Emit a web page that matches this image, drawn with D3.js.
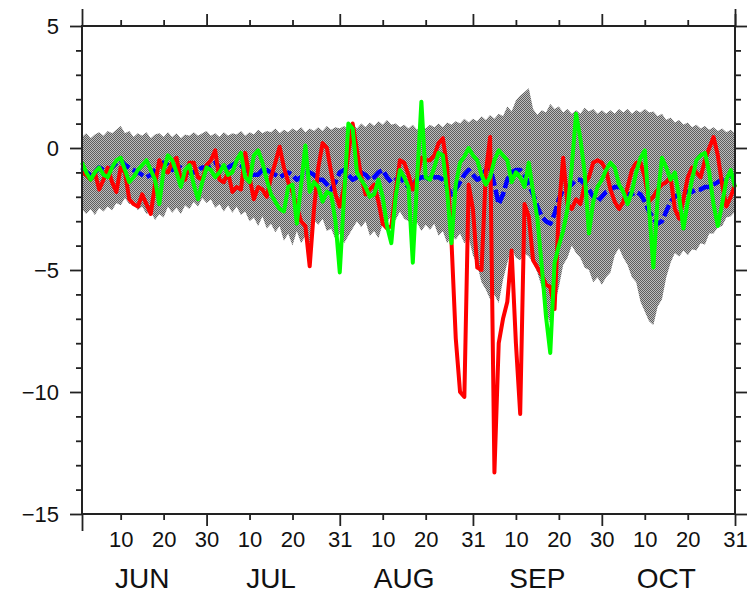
<!DOCTYPE html>
<html>
<head>
<meta charset="utf-8">
<script src="https://cdn.jsdelivr.net/npm/d3@7"></script>
<style>
  body { margin: 0; background: #fff; }
  svg { display: block; }
  .tick text { font-family: "Liberation Sans", Arial, Helvetica, sans-serif; fill: #111; }
</style>
</head>
<body>
<div id="chart"></div>
<script>
// daily values, 1 Jun .. 31 Oct
const bandUpper = [
  0.45,0.6,0.4,0.55,0.65, 0.5,0.7,0.6,0.75,0.9, 0.6,0.7,0.45,0.6,0.5, 0.65,0.4,0.55,0.6,0.45, 0.65,0.45,0.6,0.4,0.55, 0.5,0.65,0.5,0.6,0.7,
  0.5,0.6,0.45,0.65,0.5, 0.6,0.55,0.7,0.5,0.65, 0.55,0.75,0.6,0.7,0.65, 0.8,0.6,0.75,0.65,0.8, 0.7,0.85,0.65,0.8,0.7, 0.85,0.7,0.9,0.75,0.85, 0.8,
  0.9,0.75,0.95,0.8,1.0, 0.85,1.05,0.9,1.1,0.95, 1.15,0.95,1.0,0.85,0.95, 0.8,0.95,0.75,0.9,0.8, 0.95,0.85,1.0,0.85,1.05, 0.95,1.1,1.0,1.2,1.05, 1.2,
  1.1,1.3,1.15,1.35,1.2, 1.4,1.3,1.7,1.5,1.95, 2.15,2.3,2.45,1.6,1.35, 1.55,1.45,1.8,1.6,1.7, 1.45,1.6,1.4,1.55,1.4, 1.65,1.5,1.6,1.4,1.55,
  1.4,1.55,1.4,1.6,1.45, 1.6,1.4,1.55,1.45,1.6, 1.45,1.5,1.3,1.4,1.15, 1.25,1.05,1.15,0.95,1.05, 0.85,0.95,0.8,0.9,0.75, 0.85,0.7,0.8,0.65,0.75, 0.6
];
const bandLower = [
  -2.5,-2.7,-2.5,-2.75,-2.45, -2.6,-2.4,-2.55,-2.25,-2.35, -2.05,-2.3,-2.2,-2.55,-2.4, -2.7,-2.6,-2.95,-2.7,-2.85, -2.4,-2.65,-2.45,-2.7,-2.35, -2.5,-2.2,-2.4,-2.05,-2.25,
  -2.1,-2.45,-2.3,-2.6,-2.35, -2.65,-2.4,-2.75,-2.6,-3.0, -2.85,-3.2,-2.8,-3.3,-3.1, -3.45,-3.2,-3.8,-3.5,-4.0, -3.4,-3.9,-3.6,-4.1,-2.95, -3.15,-2.9,-3.4,-3.3,-3.75, -3.5,
  -3.9,-3.6,-3.3,-3.0,-3.25, -3.0,-3.6,-3.4,-3.7,-3.1, -3.05,-2.8,-2.95,-2.6,-2.9, -3.0,-3.35,-3.05,-3.4,-3.15, -3.35,-3.1,-3.6,-3.4,-3.9, -3.6,-3.75,-3.5,-3.9,-3.65, -4.4,
  -4.8,-5.5,-5.8,-6.2,-6.0, -6.35,-5.4,-4.7,-4.1,-4.5, -4.6,-4.3,-4.45,-4.7,-5.1, -5.7,-6.7,-7.2,-6.4,-5.7, -4.8,-4.5,-4.0,-4.3,-4.5, -4.9,-5.0,-5.5,-5.3,-5.6,
  -5.3,-5.1,-4.4,-4.1,-4.5, -4.8,-5.3,-5.5,-6.3,-6.7, -7.1,-7.25,-6.5,-6.2,-5.3, -4.7,-4.3,-4.45,-4.2,-4.4, -4.15,-4.2,-3.9,-3.95,-3.5, -3.5,-3.25,-3.2,-2.85,-2.8, -2.6
];
const blueSeries = [
  -0.8,-1.0,-1.1,-1.0,-0.8, -0.9,-0.9,-0.8,-0.6,-0.5, -0.7,-0.8,-0.9,-1.0,-1.1, -1.2,-1.1,-0.9,-0.7,-0.6, -0.7,-0.9,-0.8,-0.8,-0.9, -1.0,-1.0,-0.9,-0.8,-0.8,
  -0.7,-0.6,-0.8,-0.9,-0.8, -0.7,-0.6,-0.7,-0.9,-1.0, -1.1,-1.1,-0.9,-0.9,-1.0, -1.1,-1.2,-1.1,-1.0,-1.1, -1.3,-1.2,-1.0,-1.0,-1.1, -1.3,-1.3,-1.5,-1.7,-1.4, -1.0,
  -0.9,-1.1,-1.3,-1.2,-1.0, -1.1,-1.3,-1.2,-1.0,-0.9, -1.2,-1.4,-1.3,-1.2,-1.4, -1.6,-1.5,-1.3,-1.2,-1.2, -1.3,-1.2,-1.2,-1.3,-1.6, -1.9,-1.7,-1.4,-1.1,-0.9, -1.1,
  -1.3,-1.2,-0.9,-0.8,-1.5, -2.3,-1.9,-1.3,-1.0,-0.9, -0.9,-1.1,-1.5,-1.9,-2.4, -2.8,-3.0,-3.1,-2.7,-2.1, -1.7,-1.6,-1.5,-1.3,-1.3, -1.5,-1.7,-2.0,-2.2,-2.0,
  -1.8,-1.7,-1.6,-1.6,-1.7, -1.9,-1.9,-1.8,-1.9,-2.2, -2.6,-2.9,-3.1,-3.0,-2.6, -2.2,-2.0,-1.9,-1.8,-1.8, -1.8,-1.7,-1.7,-1.6,-1.6, -1.5,-1.4,-1.3,-1.2,-1.1, -1.2
];
const redSeries = [
  -1.0,-1.1,-1.3,-1.0,-1.7, -1.3,-0.8,-1.4,-1.8,-0.8, -1.0,-2.1,-2.3,-2.4,-1.9, -2.3,-2.7,-1.5,-0.5,-0.9, -1.0,-0.6,-0.4,-1.3,-1.3, -0.6,-0.6,-1.2,-1.3,-0.7,
  -0.5,-0.1,-1.3,-1.4,-1.0, -1.8,-1.6,-1.7,-0.2,-1.2, -2.1,-1.6,-1.7,-2.0,-1.2, -0.6,0.05,-0.8,-1.4,-1.8, -2.4,-3.0,-3.2,-4.85,-2.5, -0.8,0.2,0.0,-1.0,-1.9, -2.4,
  -1.6,-0.2,1.0,-0.1,-1.2, -1.9,-1.7,-1.5,-2.2,-3.1, -3.3,-3.2,-1.8,-0.5,-0.6, -1.1,-1.7,-1.2,-0.4,-0.5, -0.5,-0.3,0.2,0.4,-0.8, -3.8,-7.8,-10.0,-10.2,-1.5, -2.5,
  -4.9,-5.0,-1.0,0.45,-13.3, -8.0,-7.0,-6.3,-4.2,-8.0, -10.9,-2.3,-2.8,-4.6,-4.9, -5.2,-5.6,-5.7,-6.6,-2.5, -0.4,-2.3,-2.5,-2.1,-2.3, -1.5,-1.2,-0.6,-0.5,-0.6,
  -0.9,-1.7,-2.2,-2.5,-2.2, -1.6,-0.9,-0.6,-0.6,-1.2, -2.2,-2.0,-1.7,-1.5,-1.4, -1.2,-2.5,-2.9,-2.1,-1.2, -0.8,-1.0,-1.2,-0.5,0.0, 0.45,-0.3,-1.5,-2.4,-2.0, -1.5
];
const greenSeries = [
  -0.6,-1.0,-1.3,-1.0,-0.8, -1.1,-1.2,-0.8,-0.5,-0.4, -0.9,-1.4,-1.2,-0.9,-0.7, -0.5,-0.9,-1.3,-2.3,-0.9, -0.3,-0.5,-1.0,-1.6,-0.9, -0.7,-1.5,-2.1,-1.4,-0.8,
  -0.9,-1.2,-1.0,-0.7,-1.1, -1.0,-0.5,-0.2,-1.2,-1.4, -0.3,-0.1,-0.6,-1.3,-1.9, -2.2,-2.5,-2.6,-1.6,-1.5, -3.1,-1.5,0.1,-1.8,-1.4, -1.6,-2.2,-1.8,-1.9,-3.0, -5.1,
  -2.0,1.0,0.8,-1.0,-1.3, -1.6,-2.0,-1.9,-1.3,-2.0, -3.2,-3.9,-2.0,-0.9,-1.2, -1.6,-4.7,-1.3,1.9,-1.2, -1.3,-0.8,-0.2,-0.3,-1.8, -3.9,-1.5,-0.6,-0.35,0.0, -0.3,
  -0.5,-1.1,-1.5,-1.2,-0.5, -0.1,-0.3,-0.5,-1.4,-1.0, -1.2,-1.6,-0.6,-1.8,-2.9, -4.8,-6.9,-8.4,-4.7,-4.0, -3.4,-2.5,-0.8,1.4,0.4, -1.0,-3.5,-2.2,-1.6,-1.3,
  -0.9,-0.6,-0.8,-1.5,-1.8, -2.3,-1.8,-1.0,-0.4,-0.1, -2.5,-4.9,-2.0,-0.4,-0.8, -1.3,-1.0,-2.0,-3.3,-2.2, -1.3,-0.5,-0.3,-0.2,-1.0, -2.3,-3.2,-2.3,-1.3,-0.9, -1.6
];

const monthNames = ["JUN", "JUL", "AUG", "SEP", "OCT"];
const minorDays = [10, 20];
const yMajorTicks = [-15, -10, -5, 0, 5];

const W = 749, H = 595;
const margin = {left: 82, right: 14, top: 26, bottom: 81};

const start = new Date(Date.UTC(2000, 5, 1));
const end = new Date(Date.UTC(2000, 10, 1));
const days = d3.utcDay.range(start, end);
const lastDay = days[days.length - 1];

const x = d3.scaleUtc().domain([start, lastDay]).range([margin.left, W - margin.right]);
const y = d3.scaleLinear().domain([-15, 5]).range([H - margin.bottom, margin.top]);

// tick dates
const minorDates = [], majorDates = [], midDates = [];
monthNames.forEach((m, k) => {
    minorDays.forEach(d => minorDates.push(new Date(Date.UTC(2000, 5 + k, d))));
    majorDates.push(new Date(Date.UTC(2000, 6 + k, 0)));
    midDates.push(new Date(Date.UTC(2000, 5 + k, 15)));
});

const svg = d3.select("#chart").append("svg")
    .attr("width", W)
    .attr("height", H);

svg.append("rect").attr("width", W).attr("height", H).attr("fill", "#fff");

// stipple fill for the band
const pat = svg.append("defs").append("pattern")
    .attr("id", "stipple")
    .attr("patternUnits", "userSpaceOnUse")
    .attr("width", 2).attr("height", 2);
pat.append("rect").attr("width", 2).attr("height", 2).attr("fill", "#bdbdbd");
pat.append("rect").attr("width", 1).attr("height", 1).attr("fill", "#5e5e5e");
pat.append("rect").attr("x", 1).attr("y", 1).attr("width", 1).attr("height", 1).attr("fill", "#5e5e5e");

const band = d3.area()
    .x((d, i) => x(days[i]))
    .y0((d, i) => y(bandLower[i]))
    .y1((d, i) => y(bandUpper[i]));

svg.append("path")
    .datum(bandUpper)
    .attr("d", band)
    .attr("fill", "url(#stipple)");

const line = d3.line().x((d, i) => x(days[i])).y(d => y(d));

svg.append("path").datum(blueSeries).attr("d", line)
    .attr("fill", "none").attr("stroke", "#0000ff").attr("stroke-width", 4.5)
    .attr("stroke-dasharray", "12 4").attr("stroke-linejoin", "round");
svg.append("path").datum(redSeries).attr("d", line)
    .attr("fill", "none").attr("stroke", "#ff0000").attr("stroke-width", 4)
    .attr("stroke-linejoin", "round");
svg.append("path").datum(greenSeries).attr("d", line)
    .attr("fill", "none").attr("stroke", "#00ff00").attr("stroke-width", 4)
    .attr("stroke-linejoin", "round");

// frame
svg.append("rect")
    .attr("x", margin.left).attr("y", margin.top)
    .attr("width", W - margin.right - margin.left)
    .attr("height", H - margin.bottom - margin.top)
    .attr("fill", "none").attr("stroke", "#222").attr("stroke-width", 2);

function styleAxis(g, fs) {
    g.select(".domain").remove();
    g.selectAll("line").attr("stroke", "#222").attr("stroke-width", 1.8);
    g.selectAll("text").style("font-size", fs + "px");
}

const dayFmt = d => String(d.getUTCDate());
const bottomY = H - margin.bottom;

svg.append("g").attr("transform", `translate(0,${bottomY})`)
    .call(d3.axisBottom(x).tickValues(minorDates).tickFormat(dayFmt).tickSize(6).tickPadding(11))
    .call(g => styleAxis(g, 22));
svg.append("g").attr("transform", `translate(0,${bottomY})`)
    .call(d3.axisBottom(x).tickValues(majorDates).tickFormat(dayFmt).tickSize(12).tickPadding(5))
    .call(g => styleAxis(g, 22));
svg.append("g").attr("transform", `translate(0,${bottomY})`)
    .call(d3.axisBottom(x).tickValues([start]).tickFormat("").tickSize(17))
    .call(g => styleAxis(g, 22));

svg.append("g").attr("transform", `translate(0,${margin.top})`)
    .call(d3.axisTop(x).tickValues(minorDates).tickFormat("").tickSize(6))
    .call(g => styleAxis(g, 22));
svg.append("g").attr("transform", `translate(0,${margin.top})`)
    .call(d3.axisTop(x).tickValues(majorDates).tickFormat("").tickSize(12))
    .call(g => styleAxis(g, 22));
svg.append("g").attr("transform", `translate(0,${margin.top})`)
    .call(d3.axisTop(x).tickValues([start, lastDay]).tickFormat("").tickSize(17))
    .call(g => styleAxis(g, 22));

// month names
svg.append("g")
    .selectAll("text")
    .data(midDates)
    .join("text")
    .attr("x", d => x(d))
    .attr("y", bottomY + 74)
    .attr("text-anchor", "middle")
    .attr("font-family", "'Liberation Sans', Arial, Helvetica, sans-serif")
    .attr("font-size", 28)
    .attr("fill", "#111")
    .text((d, i) => monthNames[i]);

// y axes
const yMinor = d3.range(-15, 5.01, 1).filter(v => yMajorTicks.indexOf(v) < 0);
const yFmt = v => v < 0 ? "\u2212" + Math.abs(v) : String(v);

svg.append("g").attr("transform", `translate(${margin.left},0)`)
    .call(d3.axisLeft(y).tickValues(yMajorTicks).tickFormat(yFmt).tickSize(12).tickPadding(11))
    .call(g => styleAxis(g, 22));
svg.append("g").attr("transform", `translate(${margin.left},0)`)
    .call(d3.axisLeft(y).tickValues(yMinor).tickFormat("").tickSize(6))
    .call(g => styleAxis(g, 22));
svg.append("g").attr("transform", `translate(${W - margin.right},0)`)
    .call(d3.axisRight(y).tickValues(yMajorTicks).tickFormat("").tickSize(12))
    .call(g => styleAxis(g, 22));
svg.append("g").attr("transform", `translate(${W - margin.right},0)`)
    .call(d3.axisRight(y).tickValues(yMinor).tickFormat("").tickSize(6))
    .call(g => styleAxis(g, 22));
</script>
</body>
</html>
